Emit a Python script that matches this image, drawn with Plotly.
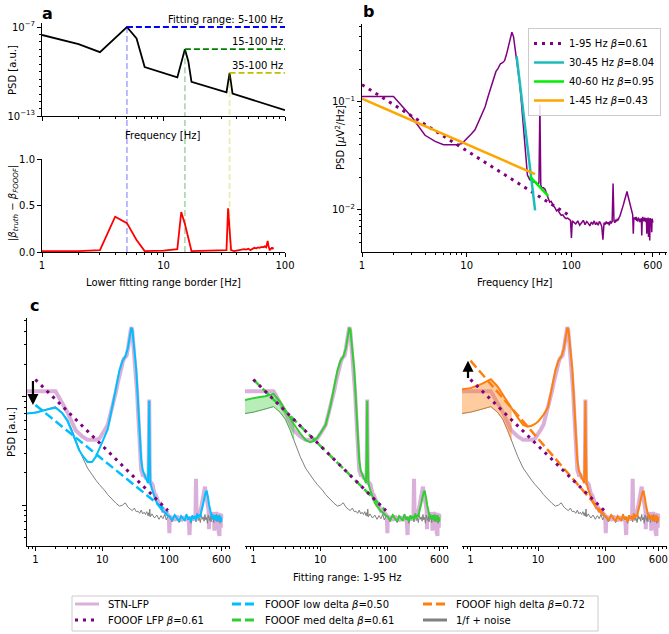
import math
import plotly.graph_objects as go

W, H = 669, 634
FONT = "DejaVu Sans"

# ---------------- panel a : simulated spectrum & beta error ----------------
a_freq = [1, 2, 3, 5, 6, 7, 13, 15, 16, 17, 33, 35, 37, 100]
a_psd = [2.9e-8, 7.1e-9, 2.0e-9, 1.0e-7, 1.7e-8, 2.0e-10, 4.0e-11,
         3.2e-9, 5.0e-10, 2.0e-11, 4.0e-12, 8.0e-11, 3.2e-12, 2.5e-13]
a_range_lo = [5, 15, 35]
a_range_hi = 100
a_range_level = [1.0e-7, 3.2e-9, 8.0e-11]
a_range_labels = ["Fitting range: 5-100 Hz", "15-100 Hz", "35-100 Hz"]
a_range_colors = ["#0000ff", "#008000", "#bfbf00"]
a_range_vcolors = ["rgba(0,0,255,0.3)", "rgba(0,128,0,0.3)", "rgba(191,191,0,0.3)"]

a_lower = [1, 2, 3, 4, 5, 6, 7, 10, 13, 14, 15, 16, 17, 20, 25, 30, 33, 34, 35, 36, 38,
           40, 42, 44, 46, 48, 50, 52, 54, 56, 58, 60, 62, 64, 66, 68, 70, 71, 72, 73,
           74, 75, 76, 77, 78, 79, 80]
a_beta_err = [0.01, 0.01, 0.02, 0.38, 0.31, 0.13, 0.01, 0.015, 0.03, 0.43, 0.30, 0.15,
              0.01, 0.012, 0.015, 0.018, 0.02, 0.47, 0.27, 0.02, 0.01, 0.015, 0.02, 0.025,
              0.03, 0.025, 0.035, 0.02, 0.03, 0.045, 0.04, 0.05, 0.045, 0.055, 0.05, 0.06,
              0.05, 0.08, 0.12, 0.07, 0.03, 0.015, 0.04, 0.03, 0.05, 0.03, 0.05]

# ---------------- panel b : STN-LFP spectrum ----------------
lfp_freq = ([0.75, 1, 2, 3, 4, 5, 6, 7, 8, 9, 10, 11, 12, 13, 14, 15, 16, 17, 18, 19, 20,
             21, 22, 23, 24, 25, 26, 27, 28, 29, 30, 31, 32, 33, 34, 35, 36, 37, 38, 39, 40,
             42, 44, 46, 48, 49, 50, 51, 52, 54, 56, 58, 60, 62, 64, 66, 68, 70, 72, 74,
             76, 78, 80, 83, 86, 89, 92, 95, 98, 100, 102]
            + list(range(105, 601, 5)))
lfp_psd = [0.112, 0.112, 0.112, 0.072, 0.049, 0.043, 0.040, 0.040, 0.040, 0.041, 0.045,
           0.050, 0.055, 0.066, 0.078, 0.090, 0.112, 0.135, 0.158, 0.190, 0.205,
           0.225, 0.230, 0.240, 0.275, 0.320, 0.390, 0.440, 0.400, 0.310, 0.250,
           0.200, 0.150, 0.110, 0.075, 0.050, 0.036, 0.026, 0.021, 0.020, 0.019,
           0.019, 0.018, 0.018, 0.017, 0.018, 0.094, 0.017, 0.016, 0.016, 0.0155,
           0.014, 0.013, 0.0118, 0.012, 0.0112, 0.0108, 0.0104, 0.0098, 0.0100,
           0.0094, 0.0092, 0.0089, 0.0090, 0.0085, 0.0083, 0.0084, 0.0081, 0.0080,
           0.0055, 0.0079,
           # 105 - 195
           0.0077, 0.0074, 0.0079, 0.0072, 0.0076, 0.0080, 0.0073, 0.0078, 0.0075, 0.0071,
           0.0077, 0.0074, 0.0079, 0.0073, 0.0076, 0.0072, 0.0078, 0.0075, 0.0070,
           # 200
           0.0053,
           # 205 - 245
           0.0076, 0.0073, 0.0078, 0.0074, 0.0077, 0.0072, 0.0079, 0.0075, 0.0078,
           # 250
           0.0175,
           # 255 - 285
           0.0079, 0.0076, 0.0081, 0.0078, 0.0083, 0.0080, 0.0085,
           # 290 - 400
           0.0087, 0.0092, 0.0096, 0.0101, 0.0108, 0.0113, 0.0120, 0.0126, 0.0131, 0.0140,
           0.0148, 0.0138, 0.0130, 0.0124, 0.0115, 0.0109, 0.0102, 0.0097, 0.0093, 0.0090,
           0.0060, 0.0085, 0.0083,
           # 405 - 600
           0.0084, 0.0081, 0.0086, 0.0079, 0.0083, 0.0078, 0.0085, 0.0080, 0.0083, 0.0077,
           0.0082, 0.0079, 0.0084, 0.0058, 0.0081, 0.0086, 0.0079, 0.0083, 0.0078, 0.0085,
           0.0080, 0.0083, 0.0077, 0.0084, 0.0060, 0.0082, 0.0079, 0.0085, 0.0056, 0.0083,
           0.0080, 0.0052, 0.0084, 0.0079, 0.0082, 0.0078, 0.0062, 0.0083, 0.0080, 0.0076]

b_fit_names = ["1-95 Hz", "30-45 Hz", "40-60 Hz", "1-45 Hz"]
b_fit_beta = [0.61, 8.04, 0.95, 0.43]
b_fit_f = [[1, 95], [30, 45], [40, 60], [1, 45]]
b_fit_psd = [[0.144, 0.0089], [0.263, 0.0099], [0.0204, 0.0135], [0.107, 0.0214]]
b_fit_colors = ["#800080", "#1cbcbc", "#00ee00", "#ffa500"]

# ---------------- panel c : simulated delta variants ----------------
c_freq_low = [0.75, 1, 1.5, 2, 2.5, 3, 3.5, 4, 4.5, 5, 6, 7, 8, 9, 10, 11, 12]
c_freq_high = ([14, 16, 18, 20, 22, 24, 26, 27, 28, 30, 32, 34, 36, 38, 40, 42, 44, 46,
                48, 49, 50, 51, 52, 55, 60, 65, 70, 75, 80, 85, 90, 95]
               + list(range(100, 601, 10)))
noise_low = [0.070, 0.072, 0.077, 0.081, 0.072, 0.062, 0.050, 0.040, 0.032, 0.028,
             0.022, 0.019, 0.017, 0.0155, 0.0145, 0.0135, 0.0125]
noise_high = [0.0112, 0.0104, 0.0098, 0.0100, 0.0105, 0.0096, 0.0092, 0.0090, 0.0089,
              0.0094, 0.0087, 0.0088, 0.0084, 0.0090, 0.0083, 0.0086, 0.0082, 0.0087,
              0.0080, 0.0085, 0.0079, 0.0092, 0.0078, 0.0083, 0.0076, 0.0081, 0.0074,
              0.0080, 0.0075, 0.0082, 0.0073, 0.0079,
              0.0078, 0.0070, 0.0082, 0.0074, 0.0069, 0.0080, 0.0076, 0.0071, 0.0083, 0.0073,
              0.0077, 0.0068, 0.0081, 0.0075, 0.0079, 0.0070, 0.0084, 0.0072, 0.0076, 0.0069,
              0.0080, 0.0074, 0.0078, 0.0071, 0.0082, 0.0073, 0.0077, 0.0068, 0.0081, 0.0075,
              0.0072, 0.0079, 0.0070, 0.0083, 0.0074, 0.0077, 0.0069, 0.0080, 0.0073, 0.0078,
              0.0071, 0.0082, 0.0075, 0.0070, 0.0079, 0.0074, 0.0081, 0.0068, 0.0077, 0.0073,
              0.0076]
sim_high = [0.080, 0.120, 0.175, 0.215, 0.235, 0.280, 0.390, 0.430, 0.420, 0.280,
            0.180, 0.090, 0.045, 0.026, 0.021, 0.019, 0.018, 0.017, 0.016, 0.030,
            0.092, 0.030, 0.016, 0.014, 0.012, 0.0105, 0.0098, 0.0092, 0.0088, 0.0086,
            0.0082, 0.0080,
            0.0079, 0.0073, 0.0081, 0.0076, 0.0071, 0.0079, 0.0075, 0.0072, 0.0082, 0.0074,
            0.0078, 0.0070, 0.0080, 0.0076, 0.0078, 0.0073, 0.0083, 0.0077, 0.0080, 0.0078,
            0.0088, 0.0094, 0.0103, 0.0114, 0.0125, 0.0132, 0.0136, 0.0128, 0.0115, 0.0102,
            0.0093, 0.0086, 0.0080, 0.0077, 0.0082, 0.0075, 0.0079, 0.0073, 0.0081, 0.0076,
            0.0078, 0.0071, 0.0080, 0.0074, 0.0079, 0.0072, 0.0081, 0.0075, 0.0078, 0.0070,
            0.0077]
delta_low = [0.070, 0.071, 0.076, 0.079, 0.071, 0.060, 0.048, 0.038, 0.032, 0.029,
             0.025, 0.025, 0.028, 0.033, 0.038, 0.044, 0.050]
delta_med = [0.093, 0.097, 0.101, 0.106, 0.090, 0.076, 0.065, 0.056, 0.050, 0.046,
             0.040, 0.038, 0.039, 0.042, 0.046, 0.050, 0.055]
delta_high = [0.117, 0.120, 0.132, 0.145, 0.125, 0.104, 0.090, 0.078, 0.070, 0.064,
              0.055, 0.053, 0.054, 0.056, 0.059, 0.064, 0.068]
c_fill_max_f = 4
c_fit_f = [1, 95]
c_fit_lfp = [0.144, 0.0089]
c_fit_low = [0.084, 0.0086]
c_fit_med = [0.144, 0.0089]
c_fit_high = [0.215, 0.0081]
c_beta_lfp = 0.61
c_beta = [0.50, 0.61, 0.72]
c_colors = ["#00bfff", "#32cd32", "#ff7f0e"]
c_fill_colors = ["rgba(0,191,255,0.35)", "rgba(50,205,50,0.35)", "rgba(255,127,14,0.4)"]
lfp_color = "rgba(205,150,205,0.75)"
arrow_f = 0.92

# ---------------- helpers ----------------
def px_x(p):
    return p / W


def px_y(p):
    return 1 - p / H


TF = dict(size=10, family=FONT, color="black")


def axis(dom, rng, anchor, log=True, major=None, labels=None, minor=None,
         showlabels=True, visible=True, horizontal=True):
    d = dict(domain=[px_x(dom[0]), px_x(dom[1])] if horizontal else [px_y(dom[1]), px_y(dom[0])],
             range=rng, anchor=anchor, showline=True, linecolor="black", linewidth=1,
             ticks="outside", ticklen=4, tickwidth=1, tickcolor="black", automargin=False,
             showgrid=False, zeroline=False, tickfont=TF, showticklabels=showlabels,
             visible=visible)
    if log:
        d["type"] = "log"
    if major is not None:
        d["tickmode"] = "array"
        d["tickvals"] = major
        if labels is not None:
            d["ticktext"] = labels
    if minor is not None:
        d["minor"] = dict(tickmode="array", tickvals=minor, ticks="outside", ticklen=2,
                          tickwidth=1, tickcolor="black", showgrid=False)
    return d


minor_1_100 = [2, 3, 4, 5, 6, 7, 8, 9, 20, 30, 40, 50, 60, 70, 80, 90]
minor_1_800 = minor_1_100 + [200, 300, 400, 500, 700, 800]
minor_c_x = [0.8, 0.9] + minor_1_800
minor_b_y = [0.005, 0.006, 0.007, 0.008, 0.009, 0.02, 0.03, 0.04, 0.05, 0.06, 0.07,
             0.08, 0.09, 0.2, 0.3, 0.4, 0.5]
minor_a_y = [3e-8, 1e-8, 3e-9, 1e-9, 3e-10, 1e-10, 3e-11, 1e-11, 3e-12, 1e-12, 3e-13]

fig = go.Figure()

# ---------------- panel a top ----------------
fig.add_trace(go.Scatter(x=a_freq, y=a_psd, mode="lines", line=dict(color="black", width=1.8),
                         xaxis="x", yaxis="y", showlegend=False))
for lo, lvl, col, vcol in zip(a_range_lo, a_range_level, a_range_colors, a_range_vcolors):
    fig.add_trace(go.Scatter(x=[lo, a_range_hi], y=[lvl, lvl], mode="lines",
                             line=dict(color=col, width=1.8, dash="6px,3px"),
                             xaxis="x", yaxis="y", showlegend=False))
    fig.add_trace(go.Scatter(x=[lo, lo], y=[lvl, 1e-14], mode="lines",
                             line=dict(color=vcol, width=1.8, dash="6px,3px"),
                             xaxis="x", yaxis="y", showlegend=False))

shapes = []
for lo, vcol in zip(a_range_lo, a_range_vcolors):
    shapes.append(dict(type="line", xref="x2", yref="paper", x0=lo, x1=lo,
                       y0=px_y(252), y1=px_y(116), layer="below",
                       line=dict(color=vcol, width=1.8, dash="6px,3px")))

# ---------------- panel a bottom ----------------
fig.add_trace(go.Scatter(x=a_lower, y=a_beta_err, mode="lines", line=dict(color="#ff0000", width=1.8),
                         xaxis="x2", yaxis="y2", showlegend=False))

# ---------------- panel b ----------------
fig.add_trace(go.Scatter(x=lfp_freq, y=lfp_psd, mode="lines", line=dict(color="#800080", width=1.5),
                         xaxis="x3", yaxis="y3", showlegend=False))
for i, (nm, be, ff, pp, col) in enumerate(zip(b_fit_names, b_fit_beta, b_fit_f, b_fit_psd, b_fit_colors)):
    ln = dict(color=col, width=3, dash="3px,5px") if i == 0 else dict(color=col, width=2.5)
    fig.add_trace(go.Scatter(x=ff, y=pp, mode="lines", line=ln, xaxis="x3", yaxis="y3",
                             name=f"{nm} <i>β</i>={be:.2f}", legend="legend2", showlegend=True))

# ---------------- panel c ----------------
c_freq = c_freq_low + c_freq_high
noise_psd = noise_low + noise_high
c_axes = [("x4", "y4"), ("x5", "y5"), ("x6", "y6")]
for k, (xa, ya) in enumerate(c_axes):
    dvals = [delta_low, delta_med, delta_high][k]
    fit = [c_fit_low, c_fit_med, c_fit_high][k]
    fig.add_trace(go.Scatter(x=lfp_freq, y=lfp_psd, mode="lines",
                             line=dict(color=lfp_color, width=4),
                             xaxis=xa, yaxis=ya, showlegend=False))
    fig.add_trace(go.Scatter(x=c_freq, y=noise_psd, mode="lines", line=dict(color="#808080", width=1),
                             xaxis=xa, yaxis=ya, showlegend=False))
    fx = [f for f in c_freq_low if f <= c_fill_max_f]
    n = len(fx)
    fig.add_trace(go.Scatter(x=fx + fx[::-1], y=dvals[:n] + noise_low[:n][::-1], mode="lines",
                             fill="toself", fillcolor=c_fill_colors[k],
                             line=dict(color=c_fill_colors[k], width=1),
                             xaxis=xa, yaxis=ya, showlegend=False))
    fig.add_trace(go.Scatter(x=c_freq, y=dvals + sim_high, mode="lines",
                             line=dict(color=c_colors[k], width=2),
                             xaxis=xa, yaxis=ya, showlegend=False))
    fig.add_trace(go.Scatter(x=c_fit_f, y=fit, mode="lines",
                             line=dict(color=c_colors[k], width=2.5, dash="9px,4px"),
                             xaxis=xa, yaxis=ya, showlegend=False))
    fig.add_trace(go.Scatter(x=c_fit_f, y=c_fit_lfp, mode="lines",
                             line=dict(color="#800080", width=3, dash="3px,5px"),
                             xaxis=xa, yaxis=ya, showlegend=False))

# ---------------- axes ----------------
layout_axes = dict(
    xaxis=axis([42, 285], [0, 2], "y", major=[1, 10, 100], minor=minor_1_100, showlabels=False),
    yaxis=axis([23, 116], [-13, -6.73], "x", major=[1e-7, 1e-13],
               labels=["10<sup>−7</sup>", "10<sup>−13</sup>"], minor=minor_a_y, horizontal=False),
    xaxis2=axis([42, 285], [0, 2], "y2", major=[1, 10, 100], labels=["1", "10", "100"],
                minor=minor_1_100),
    yaxis2=axis([159, 252], [0, 1.0], "x2", log=False, major=[0, 0.5, 1.0],
                labels=["0.0", "0.5", "1.0"], horizontal=False),
    xaxis3=axis([362, 667], [0, 2.913], "y3", major=[1, 10, 100, 600],
                labels=["1", "10", "100", "600"], minor=minor_1_800),
    yaxis3=axis([24, 252], [-2.39, -0.28], "x3", major=[0.01, 0.1],
                labels=["10<sup>−2</sup>", "10<sup>−1</sup>"], minor=minor_b_y, horizontal=False),
)
c_xdoms = [[27, 230], [245, 448], [462, 667]]
for k in range(3):
    layout_axes[f"xaxis{4 + k}"] = axis(c_xdoms[k], [-0.125, 2.905], f"y{4 + k}",
                                         major=[1, 10, 100, 600], labels=["1", "10", "100", "600"],
                                         minor=minor_c_x)
    layout_axes[f"yaxis{4 + k}"] = axis([318, 546], [-2.377, -0.274], f"x{4 + k}",
                                         major=[0.01, 0.1], minor=minor_b_y, showlabels=False,
                                         visible=(k == 0), horizontal=False)

# ---------------- annotations ----------------
ann = []


def txt(x, y, s, size=10, angle=0, bold=False, xanchor="center", yanchor="middle"):
    ann.append(dict(x=px_x(x), y=px_y(y), xref="paper", yref="paper", text=f"<b>{s}</b>" if bold else s,
                    showarrow=False, textangle=angle, xanchor=xanchor, yanchor=yanchor,
                    font=dict(size=size, family=FONT, color="black")))


txt(47, 14, "a", size=16, bold=True)
txt(368, 11, "b", size=16, bold=True)
txt(34, 305, "c", size=16, bold=True)
txt(13, 70, "PSD [a.u.]", angle=-90)
txt(163, 135, "Frequency [Hz]")
txt(13, 203, "|<i>β</i><sub><i>truth</i></sub> − <i>β</i><sub><i>FOOOF</i></sub>|", angle=-90)
txt(163, 282, "Lower fitting range border [Hz]")
txt(340, 138, "PSD [<i>μ</i>V<sup>2</sup>/Hz]", angle=-90)
txt(515, 282, "Frequency [Hz]")
txt(11, 432, "PSD [a.u.]", angle=-90)
txt(347, 577, "Fitting range: 1-95 Hz")

for lvl, lab in zip(a_range_level, a_range_labels):
    ann.append(dict(x=math.log10(a_range_hi), y=math.log10(lvl), xref="x", yref="y", text=lab,
                    showarrow=False, xanchor="right", yanchor="bottom", yshift=0,
                    font=dict(size=10, family=FONT, color="black")))

for xa, ya, tip in [("x4", "y4", c_fit_low[0]), ("x6", "y6", c_fit_high[0])]:
    ann.append(dict(x=math.log10(arrow_f), y=math.log10(tip), ax=math.log10(arrow_f),
                    ay=math.log10(c_fit_lfp[0]), xref=xa, yref=ya, axref=xa, ayref=ya, text="",
                    showarrow=True, arrowhead=2, arrowsize=1, arrowwidth=2.2, arrowcolor="black"))

# ---------------- legend of panel c (drawn as a box with sample lines) ----------------
shapes.append(dict(type="rect", xref="paper", yref="paper", x0=px_x(72), x1=px_x(598),
                   y0=px_y(631), y1=px_y(596), line=dict(color="#cccccc", width=1),
                   fillcolor="white", layer="below"))
c_legend = [
    ("STN-LFP", dict(color=lfp_color, width=3)),
    (f"FOOOF LFP <i>β</i>={c_beta_lfp:.2f}", dict(color="#800080", width=3, dash="3px,5px")),
    (f"FOOOF low delta <i>β</i>={c_beta[0]:.2f}", dict(color=c_colors[0], width=3, dash="9px,4px")),
    (f"FOOOF med delta <i>β</i>={c_beta[1]:.2f}", dict(color=c_colors[1], width=3, dash="9px,4px")),
    (f"FOOOF high delta <i>β</i>={c_beta[2]:.2f}", dict(color=c_colors[2], width=3, dash="9px,4px")),
    ("1/f + noise", dict(color="#808080", width=3)),
]
leg_cols = [75, 232, 423]
leg_rows = [604, 620]
for i, (nm, ln) in enumerate(c_legend):
    cx = leg_cols[i // 2]
    ry = leg_rows[i % 2]
    shapes.append(dict(type="line", xref="paper", yref="paper", x0=px_x(cx), x1=px_x(cx + 24),
                       y0=px_y(ry), y1=px_y(ry), line=ln))
    txt(cx + 31, ry, nm, xanchor="left")

fig.update_layout(
    width=W, height=H, autosize=False, margin=dict(l=0, r=0, t=0, b=0),
    paper_bgcolor="white", plot_bgcolor="white",
    font=dict(family=FONT, size=10, color="black"),
    shapes=shapes, annotations=ann,
    legend2=dict(x=px_x(528), y=px_y(28), xanchor="left", yanchor="top",
                 font=dict(size=10, family=FONT, color="black"),
                 bgcolor="rgba(255,255,255,0.85)", bordercolor="#cccccc", borderwidth=1,
                 itemwidth=30, tracegroupgap=0),
    **layout_axes,
)

fig.write_html("out.html", config={"displayModeBar": False},
               post_script="document.body.style.margin='0px';")
